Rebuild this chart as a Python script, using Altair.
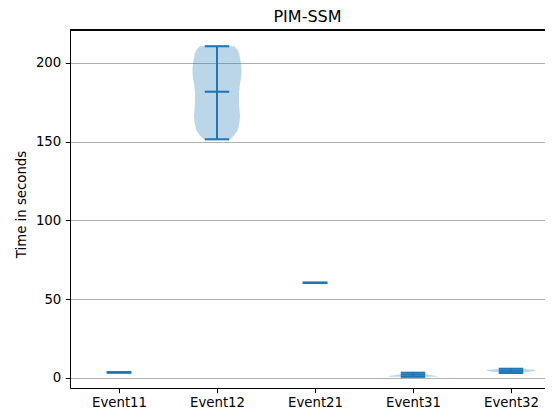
import altair as alt
import pandas as pd

# ---- data ----
categories = ["Event11", "Event12", "Event21", "Event31", "Event32"]
mins = [3.4, 151.4, 60.3, 0.6, 3.05]
maxs = [3.4, 210.5, 60.3, 3.2, 5.71]
means = [3.4, 181.6, 60.3, 1.9, 4.38]

# violin body profiles (value, relative density) per event that shows a body
e12_values = [151.4, 153.5, 155.2, 157.0, 159.4, 162.5, 165.7, 170.0, 174.2, 178.0, 181.6,
              184.5, 187.0, 190.0, 193.3, 196.5, 199.6, 203.0, 206.1, 208.5, 210.5]
e12_density = [0.55, 0.67, 0.76, 0.84, 0.88, 0.92, 0.94, 0.92, 0.90, 0.90, 0.90,
               0.92, 0.94, 0.98, 1.00, 1.00, 0.98, 0.94, 0.90, 0.82, 0.70]
e31_values = [0.6, 1.1, 1.6, 2.2, 2.7, 3.2]
e31_density = [1.00, 0.95, 0.75, 0.50, 0.35, 0.25]
e32_values = [3.05, 3.5, 4.0, 4.6, 5.1, 5.45, 5.71]
e32_density = [0.30, 0.55, 0.85, 1.00, 0.95, 0.65, 0.40]

y_ticks = [0, 50, 100, 150, 200]

positions = list(range(1, len(categories) + 1))
stats = pd.DataFrame({"event": categories, "pos": positions,
                      "min": mins, "max": maxs, "mean": means})

body_parts = []
for name, vals, dens in [("Event12", e12_values, e12_density),
                         ("Event31", e31_values, e31_density),
                         ("Event32", e32_values, e32_density)]:
    body_parts.append(pd.DataFrame({"event": name,
                                    "pos": categories.index(name) + 1,
                                    "value": vals, "density": dens}))
bodies = pd.concat(body_parts, ignore_index=True)

BLUE = "#1f77b4"
FONT = "DejaVu Sans"
W, H = 475, 358

x_scale = alt.Scale(domain=[0.5, 0.5 + W / 98.0], nice=False, zero=False)
y_scale = alt.Scale(domain=[-6.5, 220.8], nice=False, zero=False)

label_expr = "[" + ",".join("'%s'" % c for c in categories) + "][datum.value - 1]"
x_axis = alt.Axis(values=positions, labelExpr=label_expr, title=None, grid=False,
                  domainColor="black", domainWidth=1, tickColor="black", tickWidth=1,
                  tickSize=4.7, labelPadding=3, labelFont=FONT, labelFontSize=13.3,
                  labelColor="black", labelFlush=False)
y_axis = alt.Axis(values=y_ticks, title="Time in seconds", grid=True,
                  gridColor="#b0b0b0", gridWidth=1,
                  domainColor="black", domainWidth=1, tickColor="black", tickWidth=1,
                  tickSize=4.7, labelPadding=4.5, labelFont=FONT, labelFontSize=13.3,
                  labelColor="black", titleFont=FONT, titleFontSize=13.3,
                  titleFontWeight="normal", titleColor="black",
                  titleAngle=270, titleAlign="center", titleBaseline="middle",
                  titleX=-49, titleY=174)

body = alt.Chart(bodies).transform_calculate(
    left="datum.pos - datum.density * 0.25",
    right="datum.pos + datum.density * 0.25",
).mark_area(orient="horizontal", color=BLUE, opacity=0.3).encode(
    y=alt.Y("value:Q", scale=y_scale, axis=y_axis),
    x=alt.X("left:Q", scale=x_scale, axis=x_axis, stack=None),
    x2="right:Q",
    detail="event:N",
)

stat_base = alt.Chart(stats).transform_calculate(
    left="datum.pos - 0.125",
    right="datum.pos + 0.125",
)

def hbar(field):
    return stat_base.mark_rule(color=BLUE, strokeWidth=2.1, strokeCap="butt").encode(
        x=alt.X("left:Q", scale=x_scale, axis=x_axis),
        x2="right:Q",
        y=alt.Y(field + ":Q", scale=y_scale, axis=y_axis),
    )

vbar = stat_base.mark_rule(color=BLUE, strokeWidth=2, strokeCap="butt").encode(
    x=alt.X("pos:Q", scale=x_scale, axis=x_axis),
    y=alt.Y("min:Q", scale=y_scale, axis=y_axis),
    y2="max:Q",
)

top_spine = alt.Chart(stats).mark_rule(color="black", strokeWidth=1).encode(
    x=alt.value(0), x2=alt.value(W), y=alt.value(0)
)

chart = alt.layer(body, vbar, hbar("min"), hbar("max"), hbar("mean"), top_spine).properties(
    width=W, height=H,
    title=alt.TitleParams("PIM-SSM", font=FONT, fontSize=16, fontWeight="normal",
                          color="black", anchor="middle", baseline="alphabetic",
                          offset=8, dy=16),
    autosize=alt.AutoSizeParams(type="none"),
    padding={"left": 62, "top": 22, "right": 0, "bottom": 23},
).configure_view(stroke=None).configure(background="white")

chart.save("out.html", embed_options={"renderer": "svg", "actions": False})
